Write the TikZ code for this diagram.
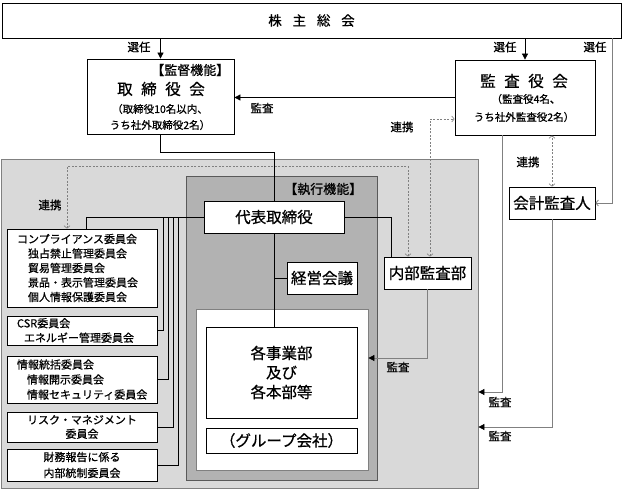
\documentclass[tikz,border=0pt]{standalone}
\usepackage{fontspec}
\setmainfont{Noto Sans CJK JP}[FakeBold=0.7]
\usetikzlibrary{arrows.meta}
\definecolor{lightgr}{gray}{0.85}
\definecolor{midgr}{gray}{0.70}
\definecolor{edgegr}{gray}{0.50}

\tikzset{
  box/.style={draw, fill=white, inner sep=0pt, align=center},
  cbox/.style={box, inner xsep=10pt, text width=130pt, font=\fontsize{11}{14.5}\selectfont},
  fbig/.style={font=\fontsize{15.5}{18}\selectfont},
  fmid/.style={font=\fontsize{13}{15}\selectfont},
  fsmall/.style={font=\fontsize{10.5}{13}\selectfont},
  lbl/.style={font=\fontsize{11.5}{13}\selectfont},
  arr/.style={-{Triangle[length=6pt,width=6pt,color=black]}},
  grayline/.style={draw=edgegr},
  link/.style={draw=edgegr, dash pattern=on 2pt off 1.5pt, line width=0.6pt,
    {Straight Barb[length=2.5pt,width=6pt]}-{Straight Barb[length=2.5pt,width=6pt]}}
}

\begin{document}
\begin{tikzpicture}[x=1pt,y=-1pt,line width=0.8pt]
\useasboundingbox (0,0) rectangle (623,489);

% company area
\node[draw=edgegr,fill=lightgr,minimum width=477,minimum height=329,inner sep=0] (kaisha) at (239.5,323.5) {};
\node[draw=edgegr!70!black,fill=midgr,minimum width=191,minimum height=304,inner sep=0] (shikko) at (281.5,328) {};
\node[fmid,anchor=east] (shikkohead) at (366,189) {【執行機能】};
\node[box,draw=edgegr,minimum width=172,minimum height=161] (gyomu) at (282,389.5) {};

% top
\node[box,font=\fontsize{13.5}{15}\selectfont,minimum width=619,minimum height=35] (soukai) at (311.5,20.5)
  {株\hspace{0.8em}主\hspace{0.8em}総\hspace{0.8em}会};

% board of directors
\node[box,minimum width=147,minimum height=75] (torishimari) at (160.5,96.5) {};
\node[fmid,anchor=east] (torihead) at (233,70) {【監督機能】};
\node[fbig] (toriname) at (161,89) {取\hspace{0.55em}締\hspace{0.55em}役\hspace{0.55em}会};
\node[fsmall] (torinote1) at (160,109) {（取締役10名以内、};
\node[fsmall] (torinote2) at (160,125) {うち社外取締役2名）};

% auditors
\node[box,minimum width=140,minimum height=75] (kansayaku) at (525,97.5) {};
\node[fbig] (kansaname) at (524,81) {監\hspace{0.55em}査\hspace{0.55em}役\hspace{0.55em}会};
\node[fsmall] (kansanote1) at (526,99) {（監査役4名、};
\node[fsmall] (kansanote2) at (524,117) {うち社外監査役2名）};

\node[box,fbig,minimum width=86,minimum height=32] (kaikei) at (552,203) {会計監査人};

% executive side
\node[box,fbig,minimum width=140,minimum height=32] (daihyo) at (274,217) {代表取締役};
\node[box,fbig,minimum width=70,minimum height=32] (keiei) at (322,278) {経営会議};
\node[box,fbig,minimum width=87,minimum height=32] (naibu) at (427.5,273) {内部監査部};
\node[box,font=\fontsize{15.5}{19.5}\selectfont,minimum width=151,minimum height=91] (jigyobu) at (281.5,372.5)
  {各事業部\\及び\\各本部等};
\node[box,fbig,minimum width=151,minimum height=25] (group) at (281.5,440.5) {（グループ会社）};

% committees
\node[cbox,align=left,minimum height=78] (c1) at (82,268)
  {コンプライアンス委員会\\
   \hspace*{11pt}独占禁止管理委員会\\
   \hspace*{11pt}貿易管理委員会\\
   \hspace*{11pt}景品・表示管理委員会\\
   \hspace*{11pt}個人情報保護委員会};
\node[cbox,align=left,minimum height=29] (c2) at (82,330.5)
  {CSR委員会\\\hspace*{7pt}エネルギー管理委員会};
\node[cbox,align=left,minimum height=47,font=\fontsize{11}{15}\selectfont] (c3) at (82,379.5)
  {情報統括委員会\\
   \hspace*{10pt}情報開示委員会\\
   \hspace*{10pt}情報セキュリティ委員会};
\node[cbox,minimum height=30,font=\fontsize{11}{14}\selectfont] (c4) at (82,427) {リスク・マネジメント\\委員会};
\node[cbox,minimum height=32,font=\fontsize{11}{16}\selectfont] (c5) at (82,465) {財務報告に係る\\内部統制委員会};

% election
\coordinate (senR) at ([xshift=-9pt]soukai.south east);
\draw[arr] (soukai.south -| torishimari.north) -- (torishimari.north);
\draw[arr] (soukai.south -| kansayaku.north) -- (kansayaku.north);
\draw[grayline,-{Straight Barb[length=2.5pt,width=6pt]}] (senR) |- (kaikei.east);
\node[lbl] (sen1) at (139,47) {選任};
\node[lbl] (sen2) at (505,47) {選任};
\node[lbl] (sen3) at (595,47) {選任};

% audit
\draw[arr] (kansayaku.west) -- (kansayaku.west -| torishimari.east);
\node[lbl] (kansa1) at (262,108) {監査};
\draw[grayline,arr] (naibu.south) |- ([yshift=31.5pt]gyomu.east);
\node[lbl] (kansa2) at (398,367) {監査};
\draw[grayline,arr] ([xshift=-23pt]kansayaku.south) |- ([yshift=-68.5pt]kaisha.east);
\node[lbl] (kansa3) at (500,402) {監査};
\draw[grayline,arr] (kaikei.south) |- ([yshift=-103.5pt]kaisha.east);
\node[lbl] (kansa4) at (500,436) {監査};

% cooperation
\draw[link] ([xshift=2.5pt]naibu.north) |- ([yshift=-21.5pt]kansayaku.west);
\node[lbl] (renkei1) at (402,127) {連携};
\draw[link] (kaikei.north) -- (kaikei.north |- kansayaku.south);
\node[lbl] (renkei2) at (528,162) {連携};
\draw[link] ([xshift=-19.5pt]naibu.north) -- ++(0,-90) -| ([xshift=-15pt]c1.north);
\node[lbl] (renkei3) at (50,205) {連携};

% reporting lines
\draw (torishimari.south) -- ++(0,18) -| (daihyo.north);
\draw (daihyo.south) -- (daihyo.south |- jigyobu.north);
\draw (keiei.west) -- (keiei.west -| daihyo.south);
\draw (daihyo.east) -| ([xshift=8pt]naibu.north west);
\draw (daihyo.west) -| ([xshift=4pt]c1.north);
\foreach \c/\x in {c2/163,c3/168,c4/173,c5/178}
  \draw (daihyo.west) -| (\x,0 |- \c.east) -- (\c.east);
\end{tikzpicture}
\end{document}
